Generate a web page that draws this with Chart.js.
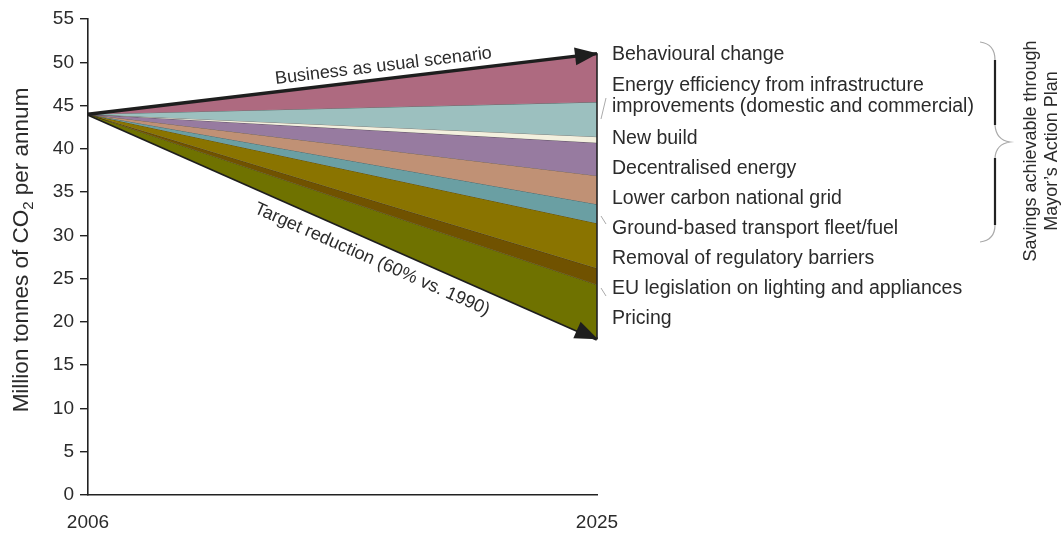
<!DOCTYPE html>
<html>
<head>
<meta charset="utf-8">
<script src="https://cdn.jsdelivr.net/npm/chart.js@4.4.1/dist/chart.umd.min.js"></script>
<style>
  html,body{margin:0;padding:0;background:#fff;}
  #c{display:block;}
</style>
</head>
<body>
<canvas id="c" width="1064" height="534"></canvas>
<script>
// data
const years = [2006, 2025];
const start2006 = 44;
const bau2025 = 51;
const target2025 = 18;
const measures = ['Behavioural change', 'Energy efficiency from infrastructure improvements (domestic and commercial)', 'New build', 'Decentralised energy', 'Lower carbon national grid', 'Ground-based transport fleet/fuel', 'Removal of regulatory barriers', 'EU legislation on lighting and appliances', 'Pricing'];
// lower edge of each band in 2025 (last band ends at target)
const bandBottoms2025 = [45.4, 41.4, 40.7, 36.9, 33.6, 31.4, 26.2, 24.3, target2025];
const bandColors = ['#ae6a80', '#9cc0bf', '#f3f0de', '#977ba0', '#c09175', '#6a9fa3', '#8a7400', '#705200', '#6f7200'];
const yTicks = [0, 5, 10, 15, 20, 25, 30, 35, 40, 45, 50, 55];
const xTicks = [2006, 2025];

const FONT = '"Liberation Sans", Arial, sans-serif';
const INK = '#2b2b2b';

const edges = [bau2025, ...bandBottoms2025];
const datasets = edges.map((v, i) => ({
  label: i === 0 ? 'Business as usual scenario' : (i === edges.length - 1 ? 'Target reduction (60% vs. 1990)' : measures[i - 1]),
  data: [{x: years[0], y: start2006}, {x: years[1], y: v}],
  borderColor: (i === 0 || i === edges.length - 1) ? '#1e1e1e' : 'rgba(40,40,40,0.75)',
  borderWidth: (i === 0 || i === edges.length - 1) ? 3.5 : 0.8,
  backgroundColor: i < measures.length ? bandColors[i] : 'transparent',
  fill: i < measures.length ? '+1' : false,
  pointRadius: 0,
  tension: 0,
  clip: false
}));

const extras = {
  id: 'extras',
  afterDatasetsDraw(chart) {
    const {ctx, scales: {x, y}} = chart;
    const x0 = x.getPixelForValue(years[0]), x1 = x.getPixelForValue(years[1]);
    const y0 = y.getPixelForValue(start2006);
    ctx.save();
    // right edge
    ctx.strokeStyle = '#222'; ctx.lineWidth = 1.6;
    ctx.beginPath(); ctx.moveTo(x1, y.getPixelForValue(bau2025)); ctx.lineTo(x1, y.getPixelForValue(target2025)); ctx.stroke();
    // arrowheads
    const arrow = (yv) => {
      const ty = y.getPixelForValue(yv);
      const a = Math.atan2(ty - y0, x1 - x0);
      const L = 23, W = 9;
      ctx.fillStyle = '#1e1e1e';
      ctx.beginPath();
      ctx.moveTo(x1 + 1, ty);
      ctx.lineTo(x1 + 1 - L * Math.cos(a) + W * Math.sin(a), ty - L * Math.sin(a) - W * Math.cos(a));
      ctx.lineTo(x1 + 1 - L * Math.cos(a) - W * Math.sin(a), ty - L * Math.sin(a) + W * Math.cos(a));
      ctx.closePath(); ctx.fill();
      return a;
    };
    const aTop = arrow(bau2025);
    const aBot = arrow(target2025);
    // labels along lines
    ctx.fillStyle = INK;
    ctx.font = '18px ' + FONT;
    ctx.textAlign = 'center'; ctx.textBaseline = 'alphabetic';
    ctx.save(); ctx.translate(384, 71); ctx.rotate(aTop); ctx.fillText('Business as usual scenario', 0, 0); ctx.restore();
    ctx.save(); ctx.translate(370, 264); ctx.rotate(aBot); ctx.fillText('Target reduction (60% vs. 1990)', 0, 0); ctx.restore();

    // right-hand labels
    ctx.font = '19.5px ' + FONT;
    ctx.textAlign = 'left'; ctx.textBaseline = 'middle';
    const rows = [
      ['Behavioural change', 55],
      ['Energy efficiency from infrastructure', 86],
      ['improvements (domestic and commercial)', 107],
      ['New build', 139],
      ['Decentralised energy', 169],
      ['Lower carbon national grid', 199],
      ['Ground-based transport fleet/fuel', 229],
      ['Removal of regulatory barriers', 259],
      ['EU legislation on lighting and appliances', 289],
      ['Pricing', 319]
    ];
    rows.forEach(([t, yy]) => ctx.fillText(t, 612, yy));
    // small leaders
    ctx.strokeStyle = '#aaa'; ctx.lineWidth = 1;
    ctx.beginPath();
    ctx.moveTo(601, 119); ctx.lineTo(606, 98);
    ctx.moveTo(601, 216); ctx.lineTo(606, 224);
    ctx.moveTo(601, 288); ctx.lineTo(606, 296);
    ctx.stroke();

    // brace
    ctx.strokeStyle = '#aaa'; ctx.lineWidth = 1.2;
    ctx.beginPath();
    ctx.moveTo(980, 42); ctx.quadraticCurveTo(995, 44, 995, 60);
    ctx.moveTo(995, 125); ctx.quadraticCurveTo(996, 140, 1010, 142);
    ctx.quadraticCurveTo(996, 144, 995, 158);
    ctx.moveTo(995, 225); ctx.quadraticCurveTo(995, 240, 980, 242);
    ctx.stroke();
    ctx.strokeStyle = '#222'; ctx.lineWidth = 2.2;
    ctx.beginPath();
    ctx.moveTo(995, 60); ctx.lineTo(995, 125);
    ctx.moveTo(995, 158); ctx.lineTo(995, 225);
    ctx.stroke();
    ctx.fillStyle = INK;
    ctx.font = '18px ' + FONT;
    ctx.textAlign = 'center'; ctx.textBaseline = 'middle';
    ctx.save(); ctx.translate(1031, 151); ctx.rotate(-Math.PI / 2);
    ctx.fillText('Savings achievable through', 0, 0);
    ctx.fillText('Mayor\u2019s Action Plan', 0, 21);
    ctx.restore();

    // y axis title with subscript
    const t1 = 'Million tonnes of CO', t2 = '2', t3 = ' per annum';
    const big = '22.5px ' + FONT, small = '15px ' + FONT;
    ctx.font = big; const w1 = ctx.measureText(t1).width, w3 = ctx.measureText(t3).width;
    ctx.font = small; const w2 = ctx.measureText(t2).width;
    const tw = w1 + w2 + w3;
    ctx.save(); ctx.translate(28, 250); ctx.rotate(-Math.PI / 2);
    ctx.textAlign = 'left'; ctx.textBaseline = 'alphabetic';
    ctx.font = big; ctx.fillText(t1, -tw / 2, 0);
    ctx.font = small; ctx.fillText(t2, -tw / 2 + w1, 5);
    ctx.font = big; ctx.fillText(t3, -tw / 2 + w1 + w2, 0);
    ctx.restore();
    ctx.restore();
  }
};

new Chart(document.getElementById('c'), {
  type: 'line',
  data: { datasets },
  options: {
    responsive: false,
    animation: false,
    devicePixelRatio: 1,
    layout: { padding: { top: 19, right: 467, left: 0, bottom: 0 } },
    plugins: { legend: { display: false }, tooltip: { enabled: false } },
    scales: {
      x: {
        type: 'linear', min: years[0], max: years[1],
        afterBuildTicks: s => { s.ticks = xTicks.map(v => ({ value: v })); },
        afterFit: s => { s.height = 39; },
        grid: { drawOnChartArea: false, drawTicks: false },
        border: { color: '#222', width: 1.6 },
        ticks: { color: INK, font: { family: FONT, size: 19 }, padding: 16, maxRotation: 0, autoSkip: false, callback: v => String(v) }
      },
      y: {
        min: 0, max: 55,
        afterBuildTicks: s => { s.ticks = yTicks.map(v => ({ value: v })); },
        afterFit: s => { s.width = 88; },
        grid: { drawOnChartArea: false, drawTicks: true, tickLength: 8, color: '#222', lineWidth: 1.4 },
        border: { color: '#222', width: 1.6 },
        ticks: { color: INK, font: { family: FONT, size: 19 }, padding: 6 }
      }
    }
  },
  plugins: [extras]
});
</script>
</body>
</html>
